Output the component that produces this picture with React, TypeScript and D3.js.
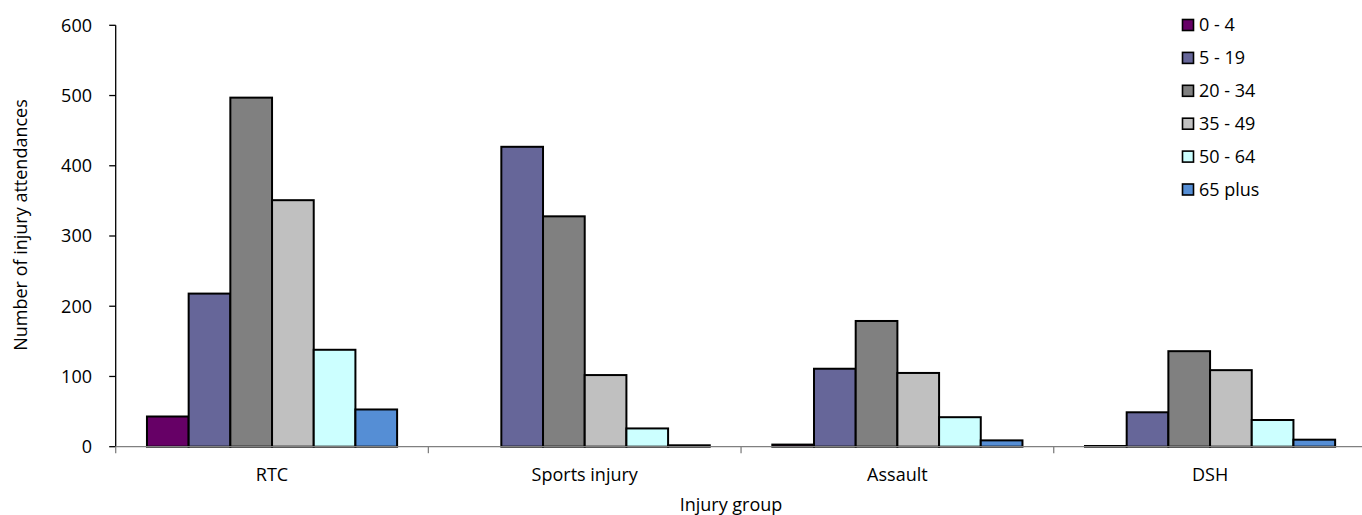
import React from "react";
import * as d3 from "d3";

const categories = ["RTC", "Sports injury", "Assault", "DSH"];
const seriesNames = ["0 - 4", "5 - 19", "20 - 34", "35 - 49", "50 - 64", "65 plus"];
const age0to4 = [43, 0, 3, 1];
const age5to19 = [218, 427, 111, 49];
const age20to34 = [497, 328, 179, 136];
const age35to49 = [351, 102, 105, 109];
const age50to64 = [138, 26, 42, 38];
const age65plus = [53, 2, 9, 10];
const seriesValues = [age0to4, age5to19, age20to34, age35to49, age50to64, age65plus];
const seriesColors = ["#660066", "#666699", "#808080", "#C0C0C0", "#CCFFFF", "#558ED5"];
const yTicks = [0, 100, 200, 300, 400, 500, 600];

const W = 1362;
const H = 515;
const left = 115.7;
const right = 1366.4;
const top = 25.3;
const bottom = 446.7;
const font = "'Open Sans', sans-serif";
const fs = 18;

export default function App() {
  const x0 = d3.scaleBand<string>().domain(categories).range([left, right]).paddingInner(0).paddingOuter(0);
  const x1 = d3
    .scaleBand<string>()
    .domain(seriesNames)
    .range([0, x0.bandwidth()])
    .paddingInner(0)
    .paddingOuter(0.75);
  const y = d3.scaleLinear().domain([0, 600]).range([bottom, top]);

  const boundaries = categories.map((c) => x0(c)!).concat([right]);

  return (
    <svg
      width={W}
      height={H}
      style={{ position: "absolute", left: 0, top: 0, display: "block", background: "#fff" }}
      fontFamily={font}
    >
      <rect x={0} y={0} width={W} height={H} fill="#fff" />
      {/* bars */}
      {seriesNames.map((s, si) =>
        categories.map((c, ci) => {
          const v = seriesValues[si][ci];
          if (!(v > 0)) return null;
          const bx = x0(c)! + x1(s)!;
          return (
            <rect
              key={s + c}
              x={bx}
              y={y(v)}
              width={x1.bandwidth()}
              height={y(0) - y(v)}
              fill={seriesColors[si]}
              stroke="#000"
              strokeWidth={2}
            />
          );
        })
      )}
      {/* y axis */}
      <line x1={left} x2={left} y1={top} y2={bottom} stroke="#000" strokeWidth={1.3} />
      {yTicks.map((t) => (
        <g key={t}>
          <line x1={left - 6.5} x2={left} y1={y(t)} y2={y(t)} stroke="#000" strokeWidth={1.3} />
          <text x={92} y={y(t)} dy="0.36em" textAnchor="end" fontSize={fs} fill="#000">
            {t}
          </text>
        </g>
      ))}
      {/* x axis */}
      <line x1={left} x2={right} y1={bottom} y2={bottom} stroke="#808080" strokeWidth={1.3} />
      {boundaries.map((b, i) => (
        <line key={i} x1={b} x2={b} y1={bottom} y2={bottom + 6.5} stroke="#808080" strokeWidth={1.3} />
      ))}
      {categories.map((c) => (
        <text
          key={c}
          x={x0(c)! + x0.bandwidth() / 2}
          y={475}
          dy="0.36em"
          textAnchor="middle"
          fontSize={fs}
          fill="#000"
        >
          {c}
        </text>
      ))}
      <text x={731} y={505} dy="0.36em" textAnchor="middle" fontSize={fs} fill="#000">
        Injury group
      </text>
      <text
        transform={`translate(21,225) rotate(-90)`}
        dy="0.36em"
        textAnchor="middle"
        fontSize={fs}
        fill="#000"
      >
        Number of injury attendances
      </text>
      {/* legend */}
      {seriesNames.map((s, i) => {
        const cy = 25 + i * 32.9;
        return (
          <g key={s}>
            <rect x={1182.5} y={cy - 5.5} width={11} height={11} fill={seriesColors[i]} stroke="#000" strokeWidth={1.6} />
            <text x={1199} y={cy} dy="0.36em" fontSize={fs} fill="#000">
              {s}
            </text>
          </g>
        );
      })}
    </svg>
  );
}
